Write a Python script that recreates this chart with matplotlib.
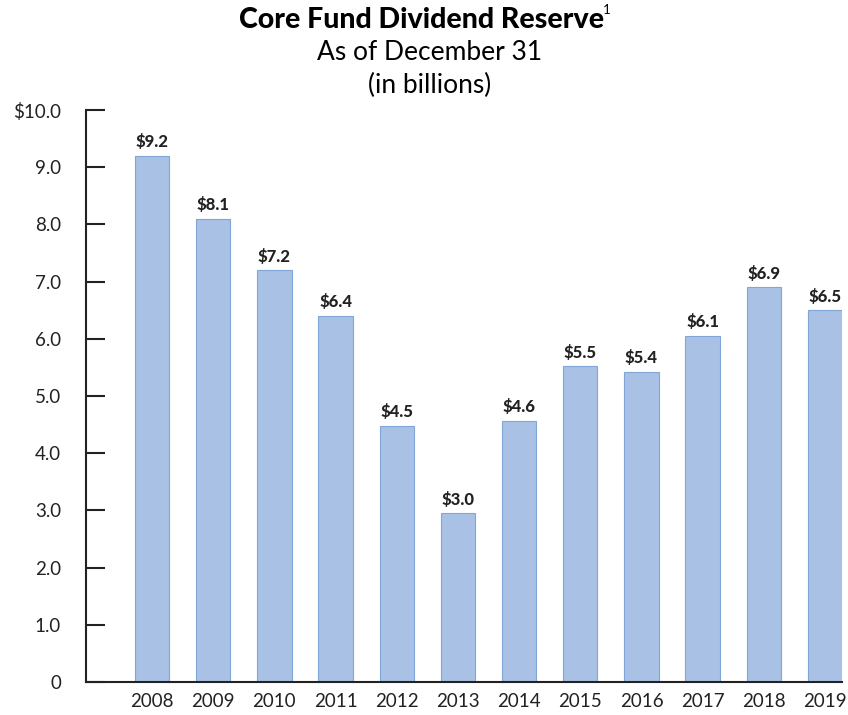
import matplotlib.pyplot as plt

plt.rcParams['font.family'] = ['Lato', 'DejaVu Sans']

years = ['2008', '2009', '2010', '2011', '2012', '2013',
         '2014', '2015', '2016', '2017', '2018', '2019']
reserve = [9.2, 8.1, 7.2, 6.4, 4.48, 2.95, 4.57, 5.52, 5.42, 6.05, 6.9, 6.5]
value_labels = ['$9.2', '$8.1', '$7.2', '$6.4', '$4.5', '$3.0',
                '$4.6', '$5.5', '$5.4', '$6.1', '$6.9', '$6.5']
y_ticks = [0, 1, 2, 3, 4, 5, 6, 7, 8, 9, 10]
y_tick_labels = ['0', '1.0', '2.0', '3.0', '4.0', '5.0', '6.0', '7.0', '8.0', '9.0', '$10.0']

fig = plt.figure(figsize=(8.48, 7.15), dpi=100)
ax = fig.add_axes([0.1014, 0.0462, 0.8916, 0.7999])

x = range(len(years))
ax.bar(x, reserve, width=0.56, color='#A9C1E5', edgecolor='#7FA6D6', linewidth=0.8, zorder=2)

for xi, v, lab in zip(x, reserve, value_labels):
    ax.annotate(lab, (xi, v), xytext=(0, 4), textcoords='offset points',
                ha='center', va='bottom', fontsize=12, fontweight='black', color='#222222')

ax.set_xlim(-1.08, 11.28)
ax.set_ylim(0, 10)
ax.set_yticks(y_ticks)
ax.set_yticklabels(y_tick_labels)
ax.set_xticks(list(x))
ax.set_xticklabels(years)

ax.spines['top'].set_visible(False)
ax.spines['right'].set_visible(False)
for s in ['left', 'bottom']:
    ax.spines[s].set_linewidth(1.5)
    ax.spines[s].set_color('#222222')
ax.spines['bottom'].set_zorder(3)

ax.tick_params(axis='y', direction='in', length=14, width=1.5, pad=18,
               labelsize=13.5, colors='#222222')
ax.tick_params(axis='x', length=0, pad=8, labelsize=13.5, colors='#222222')

title = fig.text(0.497, 0.972, 'Core Fund Dividend Reserve', ha='center', va='center',
                 fontsize=20.5, fontweight='black', color='black')
fig.text(0.507, 0.927, 'As of December 31', ha='center', va='center', fontsize=19, color='black')
fig.text(0.507, 0.881, '(in billions)', ha='center', va='center', fontsize=19, color='black')

# footnote marker after the title
fig.canvas.draw()
bb = title.get_window_extent().transformed(fig.transFigure.inverted())
fig.text(bb.x1 - 0.001, 0.986, '1', ha='left', va='center', fontsize=9.5, color='black')

plt.savefig('out.png', dpi=100)
